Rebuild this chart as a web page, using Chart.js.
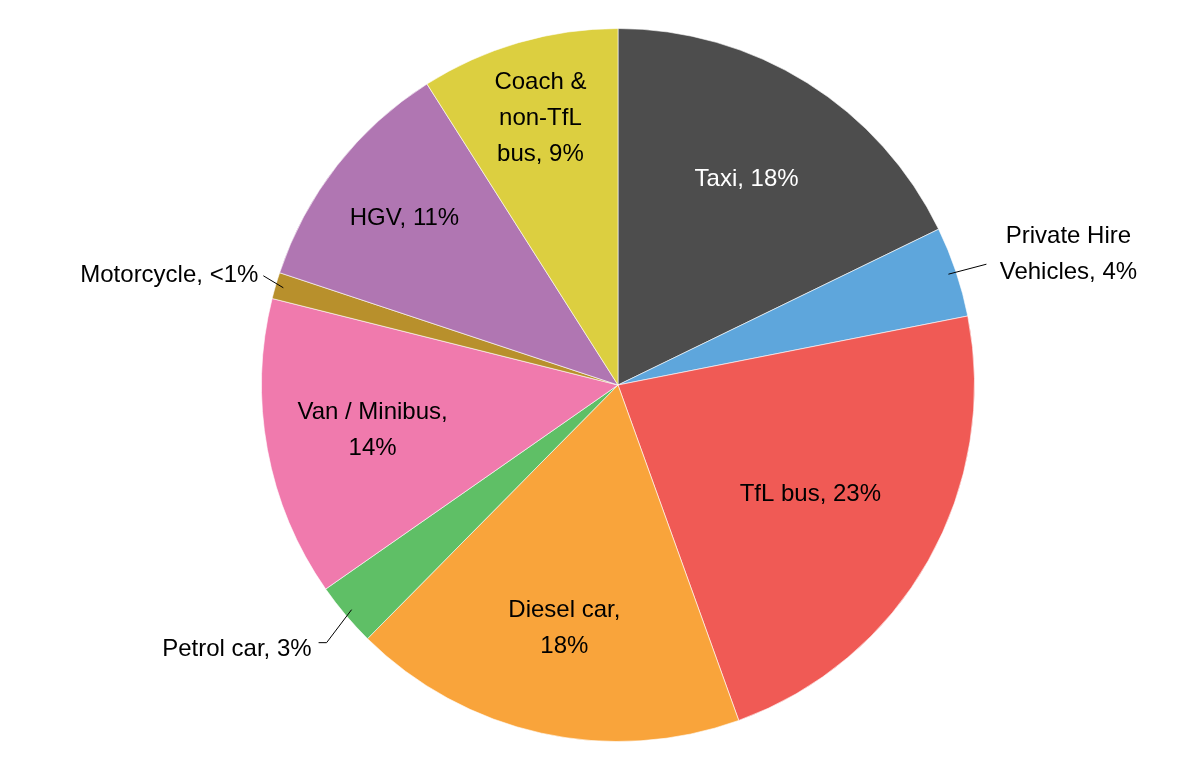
<!DOCTYPE html>
<html><head><meta charset="utf-8">
<script src="https://cdn.jsdelivr.net/npm/chart.js@4"></script>
<style>html,body{margin:0;background:#fff}#w{width:1200px;height:775px}</style>
</head><body><div id="w"><canvas id="c"></canvas></div>
<script>
const categories = ["Taxi","Private Hire Vehicles","TfL bus","Diesel car","Petrol car","Van / Minibus","Motorcycle","HGV","Coach & non-TfL bus"];
const values = [17.8,4.1,22.6,17.9,2.9,13.6,1.2,10.9,9.0];
const labelTexts = [["Taxi, 18%"],["Private Hire","Vehicles, 4%"],["TfL bus, 23%"],["Diesel car,","18%"],["Petrol car, 3%"],["Van / Minibus,","14%"],["Motorcycle, <1%"],["HGV, 11%"],["Coach &","non-TfL","bus, 9%"]];
const colors = ["#4d4d4d","#5ea6dc","#f05a55","#f9a43b","#5fbf66","#f07aad","#b8902c","#b076b2","#dccf40"];
const textColors = ["#fff","#000","#000","#000","#000","#000","#000","#000","#000"];
// outside label config: [dx, dy of text anchor from edge point, align]
const outside = {1:[120,-20,'center'],4:[-40,40,'right'],6:[-25,-12,'right']};
const inFrac = [0.68,0,0.62,0.7,0,0.7,0,0.76,0.78];

const labelPlugin = {id:'lbl', afterDatasetsDraw(chart){
  const ctx=chart.ctx; const meta=chart.getDatasetMeta(0);
  ctx.save(); ctx.font='24px "Liberation Sans", Arial, sans-serif'; ctx.textBaseline='middle';
  meta.data.forEach((arc,i)=>{
    const p=arc.getProps(['x','y','startAngle','endAngle','outerRadius']);
    const a=(p.startAngle+p.endAngle)/2; const lh=36; const lines=labelTexts[i];
    if(outside[i]){
      const [dx,dy,al]=outside[i];
      const ex=p.x+Math.cos(a)*(p.outerRadius-8), ey=p.y+Math.sin(a)*(p.outerRadius-8);
      const tx=ex+dx, ty=ey+dy;
      ctx.strokeStyle='#000'; ctx.lineWidth=1; ctx.beginPath(); ctx.moveTo(ex,ey);
      if(i===1){ctx.lineTo(ex+38,ey-10);} else if(i===4){ctx.lineTo(ex-25,ey+33);ctx.lineTo(ex-33,ey+33);} else {ctx.lineTo(ex-20,ey-12);}
      ctx.stroke();
      ctx.fillStyle='#000'; ctx.textAlign=al;
      lines.forEach((l,k)=>ctx.fillText(l,tx,ty+(k-(lines.length-1)/2)*lh));
    } else {
      const r=p.outerRadius*inFrac[i];
      const tx=p.x+Math.cos(a)*r, ty=p.y+Math.sin(a)*r;
      ctx.fillStyle=textColors[i]; ctx.textAlign='center';
      lines.forEach((l,k)=>ctx.fillText(l,tx,ty+(k-(lines.length-1)/2)*lh));
    }
  });
  ctx.restore();
}};
new Chart(document.getElementById('c'),{type:'pie',
 data:{labels:categories,datasets:[{data:values,backgroundColor:colors,borderColor:'rgba(255,255,255,0.6)',borderWidth:1}]},
 options:{responsive:true,maintainAspectRatio:false,animation:false,
  layout:{padding:{left:261,right:225,top:28,bottom:33}},
  plugins:{legend:{display:false},tooltip:{enabled:false}}},
 plugins:[labelPlugin]});
</script></body></html>
